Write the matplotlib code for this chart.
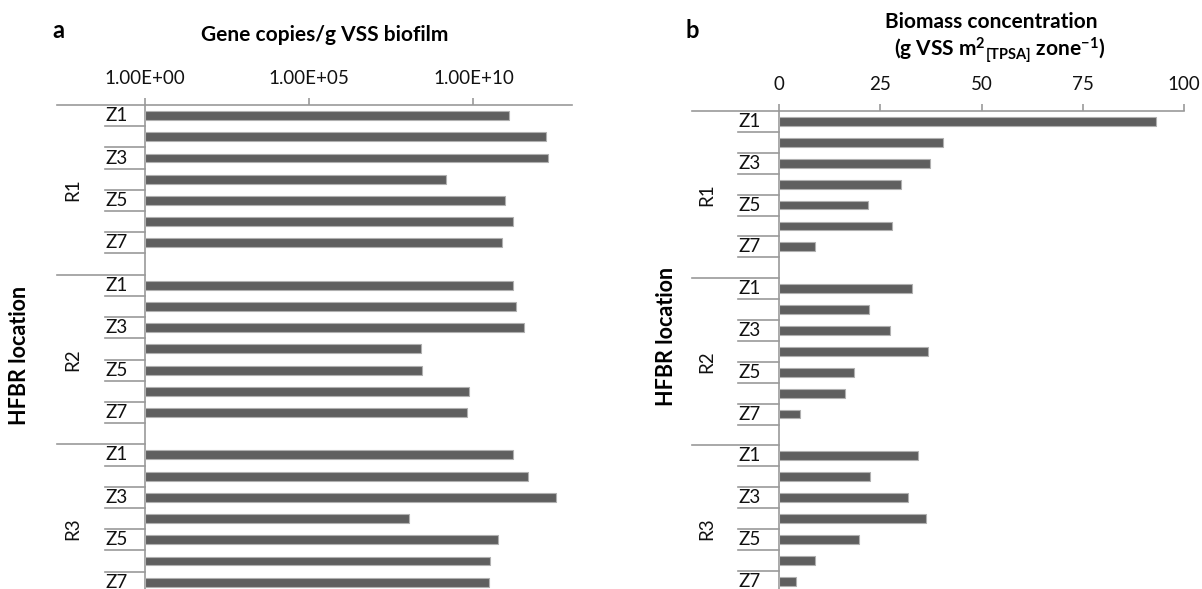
import numpy as np
import matplotlib
matplotlib.use('Agg')
import matplotlib.pyplot as plt
from matplotlib import transforms
from matplotlib.ticker import NullLocator

plt.rcParams['font.family'] = ['Lato', 'DejaVu Sans']
plt.rcParams['mathtext.fontset'] = 'custom'
plt.rcParams['mathtext.bf'] = 'Lato:bold'
plt.rcParams['mathtext.rm'] = 'Lato'
plt.rcParams['mathtext.default'] = 'bf'

# categories
reactors = ['R1', 'R2', 'R3']
zones = ['Z1', 'Z2', 'Z3', 'Z4', 'Z5', 'Z6', 'Z7', 'Z8']

# panel a: gene copies / g VSS biofilm (zones Z1..Z7)
gene_r1 = [1.2e11, 1.6e12, 1.9e12, 1.5e9, 9.0e10, 1.55e11, 7.2e10]
gene_r2 = [1.65e11, 1.95e11, 3.5e11, 2.5e8, 2.8e8, 7.4e9, 6.5e9]
gene_r3 = [1.6e11, 4.6e11, 3.3e12, 1.1e8, 5.6e10, 3.2e10, 2.9e10]

# panel b: biomass concentration (g VSS m2 zone-1)
biomass_r1 = [93.2, 40.4, 37.2, 30.0, 21.9, 28.0, 8.8]
biomass_r2 = [32.9, 22.1, 27.5, 36.7, 18.4, 16.3, 5.2]
biomass_r3 = [34.4, 22.5, 31.9, 36.3, 19.8, 8.8, 4.1]

BAR = '#5f5f5f'
EDGE = '#b0b0b0'
LINE = '#9a9a9a'
TXT = '#111111'
W, H = 1202, 589

fig = plt.figure(figsize=(W / 100, H / 100), dpi=100)


def panel(rect, series, left, long_x, short_x, zlab_x, rlab_x):
    ax = fig.add_axes(rect)
    n_rows = len(reactors) * len(zones)
    for g, vals in enumerate(series):
        ys = g * len(zones) + np.arange(len(vals)) + 0.5
        ax.barh(ys, np.array(vals) - left, left=left, height=0.42,
                color=BAR, edgecolor=EDGE, linewidth=0.8, zorder=3)
    ax.set_ylim(n_rows, 0)
    ax.set_yticks([])
    for s in ['right', 'bottom']:
        ax.spines[s].set_visible(False)
    for s in ['top', 'left']:
        ax.spines[s].set_color(LINE)
        ax.spines[s].set_linewidth(1.2)
    ax.xaxis.set_ticks_position('top')
    ax.tick_params(axis='x', direction='out', length=5, width=1.2,
                   color=LINE, pad=8, labelsize=13.5, labelcolor=TXT)

    trans = transforms.blended_transform_factory(ax.transAxes, ax.transData)
    for g, r in enumerate(reactors):
        base = g * len(zones)
        ax.plot([long_x, 0], [base, base], transform=trans, clip_on=False,
                color=LINE, lw=1.2)
        for j in range(1, len(zones)):
            ax.plot([short_x, 0], [base + j, base + j], transform=trans,
                    clip_on=False, color=LINE, lw=1.2)
        for j in range(0, len(zones), 2):
            ax.text(zlab_x, base + j + 0.5, zones[j], transform=trans,
                    ha='center', va='center', fontsize=13.5, color=TXT)
        ax.text(rlab_x, base + len(zones) / 2, r, transform=trans,
                rotation=90, ha='center', va='center', fontsize=13.5,
                color=TXT)
    return ax


# panel a
axa = panel([145 / W, 1 - 614 / H, 427 / W, 509 / H],
            [gene_r1, gene_r2, gene_r3], 1.0,
            -0.206, -0.0937, -0.0656, -0.1686)
axa.set_xscale('log')
axa.set_xlim(1, 1e13)
axa.set_xticks([1, 1e5, 1e10], labels=['1.00E+00', '1.00E+05', '1.00E+10'])
axa.xaxis.set_minor_locator(NullLocator())

# panel b
axb = panel([779 / W, 1 - 612.6 / H, 405 / W, 501.6 / H],
            [biomass_r1, biomass_r2, biomass_r3], 0.0,
            -0.215, -0.101, -0.0716, -0.178)
axb.set_xlim(0, 100)
axb.set_xticks([0, 25, 50, 75, 100])

# titles and labels
fig.text(58 / W, 1 - 31 / H, 'a', fontsize=17, fontweight='bold',
         ha='center', va='center')
fig.text(325 / W, 1 - 35 / H, 'Gene copies/g VSS biofilm', fontsize=15,
         fontweight='bold', ha='center', va='center')
fig.text(20 / W, 1 - 355 / H, 'HFBR location', fontsize=15.5,
         fontweight='bold', rotation=90, ha='center', va='center')

fig.text(692 / W, 1 - 31 / H, 'b', fontsize=17, fontweight='bold',
         ha='center', va='center')
fig.text(991 / W, 1 - 22 / H, 'Biomass concentration', fontsize=15,
         fontweight='bold', ha='center', va='center')
fig.text(1000 / W, 1 - 50 / H, r'(g VSS m$^{2}$$_{[TPSA]}$ zone$^{-1}$)',
         fontsize=15, fontweight='bold', ha='center', va='center')
fig.text(667 / W, 1 - 336 / H, 'HFBR location', fontsize=15.5,
         fontweight='bold', rotation=90, ha='center', va='center')

fig.savefig('out.png', dpi=100)
